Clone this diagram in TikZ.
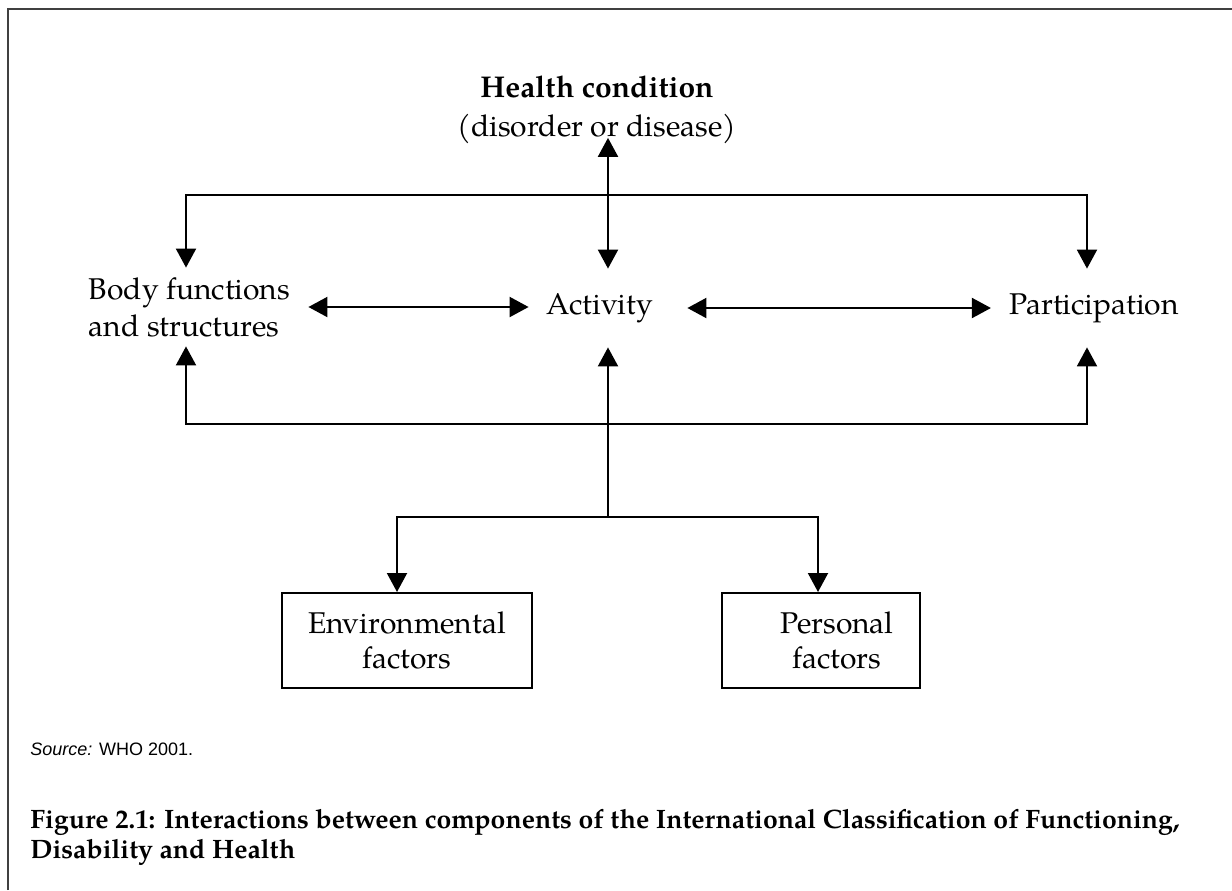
\documentclass[tikz,border=0pt]{standalone}
\usepackage{fontspec}
\setmainfont{TeX Gyre Pagella}
\newfontfamily\arialfont{Liberation Sans}
\usetikzlibrary{arrows.meta}

\begin{document}
\begin{tikzpicture}[
        x=0.5pt, y=-0.5pt,
        comp/.style={inner xsep=9pt, inner ysep=0pt, minimum height=39pt, align=left, font=\fontsize{15}{18.5}\selectfont},
        factor/.style={draw, line width=1pt, minimum width=125pt, minimum height=47.5pt, inner sep=0pt, align=center, font=\fontsize{15}{17.5}\selectfont},
        arrow/.style={-{Triangle[width=10pt, length=9.5pt]}, line width=1pt},
        biarrow/.style={{Triangle[width=10pt, length=9.5pt]}-{Triangle[width=10pt, length=9.5pt]}, line width=1pt}
    ]
        \useasboundingbox (0,0) rectangle (1232,890);

        % Frame
        \draw[line width=1pt, black!75] (8,890) -- (8,9) -- (1232,9);

        % Nodes
        \node[inner sep=0pt, align=center, font=\fontsize{15}{19.5}\selectfont] (health) at (597,110) {\textbf{Health condition}\\(disorder or disease)};
        \node[comp] (body) at (189.5,307) {Body functions\\and structures};
        \node[comp] (act) at (600,308) {Activity};
        \node[comp] (part) at (1094,308) {Participation};
        \node[factor] (env) at (407,640.5) {Environmental\\factors};
        \node[factor, minimum width=99pt] (pers) at (821,640.5) {\hspace*{16pt}Personal\\\hspace*{16pt}factors};

        % Junctions
        \coordinate (upper) at (608,195);
        \coordinate (lower) at (608,424);
        \coordinate (branch) at (608,517);

        % Links
        \draw[biarrow] ([xshift=5.5pt, yshift=3.25pt]health.south) -- ([xshift=4pt]act.north);
        \draw[arrow] (upper) -| ([xshift=-1.75pt]body.north);
        \draw[arrow] (upper) -| ([xshift=-3.5pt]part.north);
        \draw[biarrow] (body.east) -- (body.east -| act.west);
        \draw[biarrow] ([xshift=8pt]act.east) -- (part.west);
        \draw[arrow] (branch) -- ([xshift=4pt]act.south);
        \draw[arrow] (lower) -| ([xshift=-1.75pt]body.south);
        \draw[arrow] (lower) -| ([xshift=-3.5pt]part.south);
        \draw[arrow] (branch) -| ([xshift=-5pt]env.north);
        \draw[arrow] (branch) -| ([xshift=-1.5pt]pers.north);

        % Source and caption
        \node[anchor=base west, inner sep=0pt, font=\arialfont\fontsize{9}{11}\selectfont] (src) at (30,755) {\textit{Source:} WHO 2001.};
        \node[anchor=west, inner sep=0pt, align=left, font=\bfseries\fontsize{13.3}{15}\selectfont] (cap) at (30,837) {Figure 2.1: Interactions between components of the International Classification of Functioning,\\Disability and Health};
    \end{tikzpicture}
\end{document}
